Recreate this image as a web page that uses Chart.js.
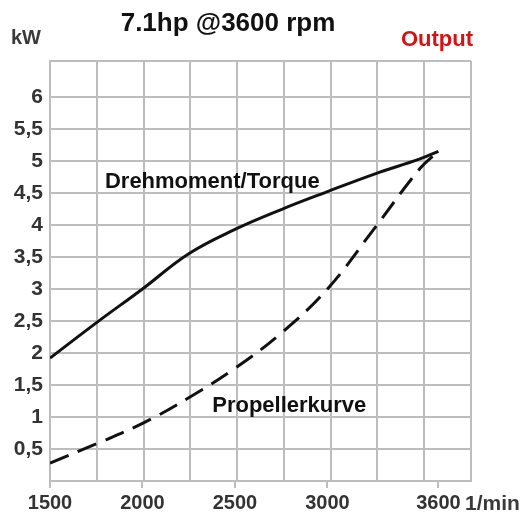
<!DOCTYPE html>
<html>
<head>
<meta charset="utf-8">
<script src="https://cdn.jsdelivr.net/npm/chart.js@4.4.1/dist/chart.umd.min.js"></script>
<style>
  html, body { margin: 0; padding: 0; background: #fff; }
  #wrap { width: 525px; height: 515px; }
</style>
</head>
<body>
<div id="wrap"><canvas id="myChart" width="525" height="515"></canvas></div>
<script>
// Daten
const drehzahl = [1500, 1750, 2000, 2250, 2500, 2750, 3000, 3250, 3500, 3600];
const drehmoment = [1.92, 2.47, 3.0, 3.55, 3.93, 4.24, 4.52, 4.79, 5.03, 5.15];
const propDrehzahl = [1500, 1750, 2000, 2250, 2500, 2750, 3000, 3250, 3500, 3600];
const propeller = [0.28, 0.58, 0.9, 1.3, 1.76, 2.31, 3.0, 3.93, 4.88, 5.15];
const xLabels = [1500, 2000, 2500, 3000, 3600];
const yLabels = [0.5, 1, 1.5, 2, 2.5, 3, 3.5, 4, 4.5, 5, 5.5, 6];

const xMin = 1500, xMax = 3776, yMax = 6.56;
const gridCols = 9;
const fontFam = '"Liberation Sans", Arial, sans-serif';
const grau = '#bdbdbd';

//texte im diagramm
const textPlugin = {
    id: 'texte',
    afterDraw(chart) {
        const ctx = chart.ctx;
        const xs = chart.scales.x, ys = chart.scales.y;
        ctx.save();
        ctx.textBaseline = 'alphabetic';
        ctx.fillStyle = '#111';
        ctx.font = 'bold 26px ' + fontFam;
        ctx.textAlign = 'center';
        ctx.fillText('7.1hp @3600 rpm', 228, 31);

        ctx.fillStyle = '#d41414';
        ctx.font = 'bold 22px ' + fontFam;
        ctx.textAlign = 'right';
        ctx.fillText('Output', 473, 46);

        ctx.fillStyle = '#3a3a3a';
        ctx.font = 'bold 20px ' + fontFam;
        ctx.textAlign = 'left';
        ctx.fillText('kW', 11, 44);

        ctx.font = 'bold 21px ' + fontFam;
        ctx.fillText('1/min', 465, 510);

        ctx.fillStyle = '#111';
        ctx.font = 'bold 22px ' + fontFam;
        ctx.fillText('Drehmoment/Torque', xs.getPixelForValue(1797), ys.getPixelForValue(4.57));
        ctx.fillText('Propellerkurve', xs.getPixelForValue(2377), ys.getPixelForValue(1.08));
        ctx.restore();
    }
};

let graphTarget = document.getElementById('myChart');

let chart = new Chart(graphTarget, {
    type: 'line',
    data: {
        datasets: [
            {
                label: 'Drehmoment/Torque',
                data: drehzahl.map((v, i) => ({ x: v, y: drehmoment[i] })),
                borderColor: '#111',
                borderWidth: 3,
                pointRadius: 0,
                tension: 0.4,
                fill: false
            },
            {
                label: 'Propellerkurve',
                data: propDrehzahl.map((v, i) => ({ x: v, y: propeller[i] })),
                borderColor: '#111',
                borderWidth: 3,
                borderDash: [20, 10],
                pointRadius: 0,
                tension: 0.4,
                fill: false
            }
        ]
    },
    options: {
        responsive: false,
        animation: false,
        layout: { padding: { top: 61, right: 54, left: 0, bottom: 0 } },
        scales: {
            x: {
                type: 'linear',
                min: xMin,
                max: xMax,
                afterBuildTicks: (s) => {
                    let t = [];
                    for (let k = 0; k <= gridCols; k++) t.push(xMin + k * (xMax - xMin) / gridCols);
                    xLabels.forEach(v => { if (v !== xMin) t.push(v); });
                    t.sort((a, b) => a - b);
                    s.ticks = t.map(v => ({ value: v }));
                },
                afterFit: (s) => { s.height = 34; },
                grid: {
                    color: (c) => (c.tick && xLabels.includes(c.tick.value) && c.tick.value !== xMin) ? 'rgba(0,0,0,0)' : grau,
                    tickColor: (c) => (c.tick && xLabels.includes(c.tick.value)) ? grau : 'rgba(0,0,0,0)',
                    lineWidth: 2,
                    tickLength: 7
                },
                border: { color: grau, width: 2 },
                ticks: {
                    autoSkip: false,
                    maxRotation: 0,
                    padding: 3,
                    color: '#333',
                    font: { family: fontFam, size: 20, weight: 'bold' },
                    callback: (v) => xLabels.includes(v) ? String(v) : ''
                }
            },
            y: {
                min: 0,
                max: yMax,
                afterBuildTicks: (s) => {
                    s.ticks = [0].concat(yLabels, [yMax]).map(v => ({ value: v }));
                },
                afterFit: (s) => { s.width = 50; },
                grid: { color: grau, lineWidth: 2, drawTicks: false },
                border: { color: grau, width: 2 },
                ticks: {
                    padding: 7,
                    color: '#333',
                    font: { family: fontFam, size: 21, weight: 'bold' },
                    callback: (v) => yLabels.includes(v) ? String(v).replace('.', ',') : ''
                }
            }
        },
        plugins: {
            legend: { display: false },
            tooltip: { enabled: false },
            title: { display: false }
        }
    },
    plugins: [textPlugin]
});
</script>
</body>
</html>
